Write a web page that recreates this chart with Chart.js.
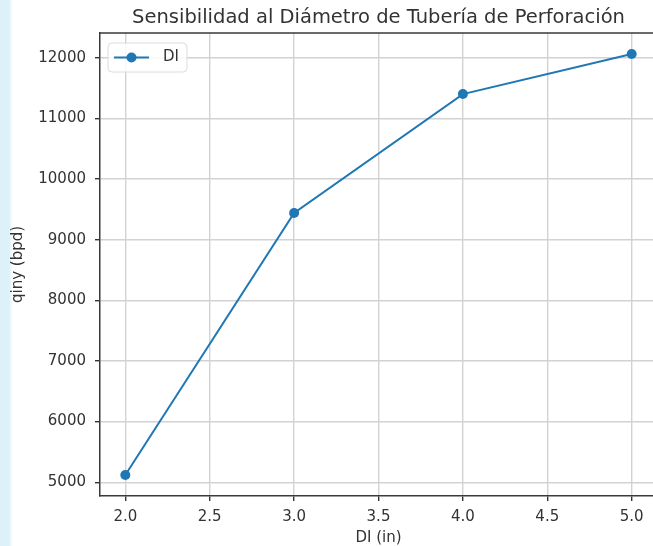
<!DOCTYPE html>
<html>
<head>
<meta charset="utf-8">
<script src="https://cdn.jsdelivr.net/npm/chart.js@4"></script>
<style>
  html, body { margin: 0; padding: 0; overflow: hidden; width: 653px; height: 546px; }
  body { background: linear-gradient(to right, #dcf2f8 0px, #dcf2f8 9px, #ffffff 13px); }
  #wrap { position: absolute; left: 0; top: 0; width: 670px; height: 546px; }
</style>
</head>
<body>
<div id="wrap"><canvas id="c" width="670" height="546"></canvas></div>
<script>
const diameters = [2.0, 3.0, 4.0, 5.0];
const qinyValues = [5120, 9440, 11400, 12060];
const xTickValues = [2.0, 2.5, 3.0, 3.5, 4.0, 4.5, 5.0];
const yTickValues = [5000, 6000, 7000, 8000, 9000, 10000, 11000, 12000];
const seriesLabel = 'DI';
const titleText = 'Sensibilidad al Diámetro de Tubería de Perforación';
const xTitle = 'DI (in)';
const yTitle = 'qiny (bpd)';

const FONT = 'DejaVu Sans';
const BLUE = '#1f77b4';
const TEXT = '#333333';

const frameLegend = {
  id: 'frameLegend',
  afterDraw(chart) {
    const ctx = chart.ctx, a = chart.chartArea;
    ctx.save();
    // title centred over the plot area
    ctx.fillStyle = TEXT;
    ctx.font = '19.5px "' + FONT + '"';
    ctx.textAlign = 'center';
    ctx.textBaseline = 'middle';
    ctx.fillText(titleText, (a.left + a.right) / 2, 18);
    // top & right spines
    ctx.strokeStyle = '#3a3a3a';
    ctx.lineWidth = 1.5;
    ctx.beginPath();
    ctx.moveTo(a.left, a.top);
    ctx.lineTo(a.right, a.top);
    ctx.lineTo(a.right, a.bottom);
    ctx.stroke();
    // legend box
    const bx = a.left + 8, by = a.top + 10, bw = 79, bh = 29, r = 4;
    ctx.beginPath();
    ctx.moveTo(bx + r, by);
    ctx.arcTo(bx + bw, by, bx + bw, by + bh, r);
    ctx.arcTo(bx + bw, by + bh, bx, by + bh, r);
    ctx.arcTo(bx, by + bh, bx, by, r);
    ctx.arcTo(bx, by, bx + bw, by, r);
    ctx.closePath();
    ctx.fillStyle = 'rgba(255,255,255,0.85)';
    ctx.fill();
    ctx.strokeStyle = '#dcdcdc';
    ctx.lineWidth = 1;
    ctx.stroke();
    const ly = by + bh / 2;
    ctx.strokeStyle = BLUE;
    ctx.lineWidth = 2;
    ctx.beginPath();
    ctx.moveTo(bx + 6, ly);
    ctx.lineTo(bx + 41, ly);
    ctx.stroke();
    ctx.fillStyle = BLUE;
    ctx.beginPath();
    ctx.arc(bx + 23.5, ly, 5, 0, Math.PI * 2);
    ctx.fill();
    ctx.fillStyle = TEXT;
    ctx.font = '15px "' + FONT + '"';
    ctx.textBaseline = 'middle';
    ctx.textAlign = 'left';
    ctx.fillText(chart.data.datasets[0].label, bx + 55, ly);
    ctx.restore();
  }
};

new Chart(document.getElementById('c'), {
  type: 'line',
  data: {
    datasets: [{
      label: seriesLabel,
      data: diameters.map((x, i) => ({ x: x, y: qinyValues[i] })),
      borderColor: BLUE,
      backgroundColor: BLUE,
      borderWidth: 2,
      pointRadius: 5,
      pointHoverRadius: 5,
      pointBorderWidth: 0,
      tension: 0
    }]
  },
  options: {
    responsive: false,
    animation: false,
    devicePixelRatio: 1,
    layout: { padding: { left: 0, right: 13, top: 33, bottom: 0 } },
    plugins: {
      legend: { display: false },
      tooltip: { enabled: false },
      title: { display: false }
    },
    scales: {
      x: {
        type: 'linear',
        min: 1.85, max: 5.15,
        afterBuildTicks: s => { s.ticks = xTickValues.map(v => ({ value: v })); },
        afterFit: s => { s.height = 50; },
        ticks: {
          color: TEXT,
          font: { family: FONT, size: 15 },
          padding: 7,
          maxRotation: 0,
          callback: v => Number(v).toFixed(1)
        },
        grid: { color: '#d2d2d2', lineWidth: 1.4, tickColor: '#333', tickLength: 5 },
        border: { display: true, color: '#3a3a3a', width: 1.5 },
        title: {
          display: true, text: xTitle, color: TEXT,
          font: { family: FONT, size: 15, lineHeight: 1.0 }, padding: { top: 0, bottom: 0 }
        }
      },
      y: {
        type: 'linear',
        min: 4773, max: 12407,
        afterBuildTicks: s => { s.ticks = yTickValues.map(v => ({ value: v })); },
        afterFit: s => { s.width = 100; },
        ticks: {
          color: TEXT,
          font: { family: FONT, size: 15 },
          padding: 9,
          callback: v => String(v)
        },
        grid: { color: '#d2d2d2', lineWidth: 1.4, tickColor: '#333', tickLength: 5 },
        border: { display: true, color: '#3a3a3a', width: 1.5 },
        title: {
          display: true, text: yTitle, color: TEXT,
          font: { family: FONT, size: 15 }, padding: { top: 9, bottom: 0 }
        }
      }
    }
  },
  plugins: [frameLegend]
});
</script>
</body>
</html>
